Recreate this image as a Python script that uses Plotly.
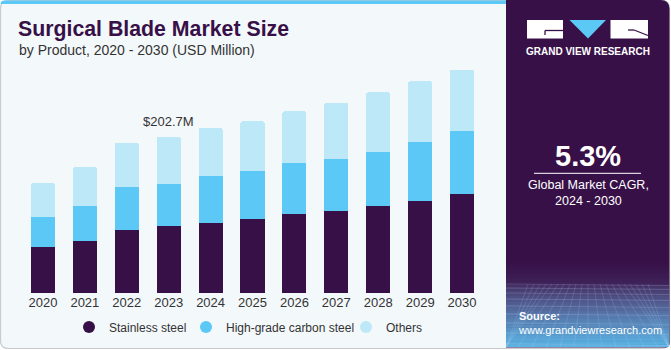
import plotly.graph_objects as go

# ---------------- data ----------------
years = ["2020", "2021", "2022", "2023", "2024", "2025", "2026", "2027", "2028", "2029", "2030"]
stainless_steel = [59.1, 66.9, 82.1, 86.9, 91.2, 96.4, 102.8, 106.7, 113.6, 119.7, 129.2]
high_grade_carbon_steel = [39.8, 46.3, 55.8, 55.2, 61.0, 62.6, 66.5, 67.4, 70.0, 76.5, 81.7]
others = [43.7, 50.2, 57.5, 60.6, 61.9, 64.1, 66.7, 73.0, 77.0, 78.7, 79.1]
series_names = ["Stainless steel", "High-grade carbon steel", "Others"]
series_colors = ["#371047", "#5BC8F5", "#BDE8F8"]
highlight_year = "2023"
highlight_label = "$202.7M"
title_text = "Surgical Blade Market Size"
subtitle_text = "by Product, 2020 - 2030 (USD Million)"
cagr_value = "5.3%"
cagr_text = "Global Market CAGR,<br>2024 - 2030"

# ---------------- geometry ----------------
W, H = 671, 350
L, R, T, B = 22, 188, 60, 57
PW, PH = W - L - R, H - T - B
YMAX = 302.6


def px(x):
    return (x - L) / PW


def py(y):
    return 1 - (y - T) / PH


fig = go.Figure()
series = [stainless_steel, high_grade_carbon_steel, others]
for name, vals, col in zip(series_names, series, series_colors):
    fig.add_trace(go.Bar(x=years, y=vals, name=name, marker=dict(color=col, line=dict(width=0)),
                         showlegend=False, hoverinfo="skip"))
legend_ids = ["legend", "legend2", "legend3"]
for name, col, lid in zip(series_names, series_colors, legend_ids):
    fig.add_trace(go.Scatter(x=[None], y=[None], mode="markers", name=name, legend=lid,
                             marker=dict(symbol="circle", size=11, color=col)))

shapes = []
BG = "#F3F8FB"
PURPLE = "#371047"


def path_round_rect(x0, y0, x1, y1, r_tl=0, r_tr=0, r_br=0, r_bl=0):
    def P(x, y):
        return f"{px(x)},{py(y)}"
    d = f"M {P(x0 + r_tl, y0)} L {P(x1 - r_tr, y0)} "
    if r_tr:
        d += f"Q {P(x1, y0)} {P(x1, y0 + r_tr)} "
    d += f"L {P(x1, y1 - r_br)} "
    if r_br:
        d += f"Q {P(x1, y1)} {P(x1 - r_br, y1)} "
    d += f"L {P(x0 + r_bl, y1)} "
    if r_bl:
        d += f"Q {P(x0, y1)} {P(x0, y1 - r_bl)} "
    d += f"L {P(x0, y0 + r_tl)} "
    if r_tl:
        d += f"Q {P(x0, y0)} {P(x0 + r_tl, y0)} "
    return d + "Z"


# card background with border
shapes.append(dict(type="path", xref="paper", yref="paper", layer="below",
                   path=path_round_rect(0.5, 0.5, 669.5, 348.5, 8, 8, 8, 8),
                   fillcolor=BG, line=dict(color="#C8CCD0", width=1.2)))
# top blue strip
shapes.append(dict(type="path", xref="paper", yref="paper", layer="below",
                   path=path_round_rect(0.5, 0.5, 508, 4, 4, 0, 0, 0),
                   fillcolor="#5BC8F5", line=dict(width=0)))
# right panel
shapes.append(dict(type="path", xref="paper", yref="paper", layer="below",
                   path=path_round_rect(506, 0, 669.5, 347.5, 0, 9, 4, 0),
                   fillcolor=PURPLE, line=dict(width=0)))


# gradient at bottom of panel
def lerp(c1, c2, t):
    a = [int(c1[i:i + 2], 16) for i in (1, 3, 5)]
    b = [int(c2[i:i + 2], 16) for i in (1, 3, 5)]
    return "#" + "".join(f"{round(a[k] + (b[k] - a[k]) * t):02x}" for k in range(3))


g0, g1 = 262, 347
n = 30
stops = [(0.0, "#371047"), (0.25, "#3E2258"), (0.3, "#48386C"), (0.6, "#5672A6"), (1.0, "#5AB6E6")]
for i in range(n):
    t = (i + 0.5) / n
    for j in range(len(stops) - 1):
        if stops[j][0] <= t <= stops[j + 1][0]:
            tt = (t - stops[j][0]) / (stops[j + 1][0] - stops[j][0])
            col = lerp(stops[j][1], stops[j + 1][1], tt)
            break
    ya = g0 + (g1 - g0) * i / n
    yb = g0 + (g1 - g0) * (i + 1) / n + 0.5
    shapes.append(dict(type="rect", xref="paper", yref="paper", layer="below",
                       x0=px(506), x1=px(669), y0=py(ya), y1=py(min(yb, 347)),
                       fillcolor=col, line=dict(width=0)))
# perspective grid
hy = [284, 288, 293, 299, 306, 314, 323, 333, 344]
for yy in hy:
    shapes.append(dict(type="line", xref="paper", yref="paper", layer="below",
                       x0=px(506), x1=px(669), y0=py(yy), y1=py(yy + 1.5),
                       line=dict(color="rgba(200,220,255,0.25)", width=0.8)))
vx = 588
for k in range(-10, 11):
    xb = vx + k * 14
    xt = vx + k * 6
    shapes.append(dict(type="line", xref="paper", yref="paper", layer="below",
                       x0=px(max(506, min(669, xt))), y0=py(284),
                       x1=px(max(506, min(669, xb))), y1=py(347),
                       line=dict(color="rgba(200,220,255,0.2)", width=0.8)))

# logo
shapes.append(dict(type="rect", xref="paper", yref="paper", x0=px(527), x1=px(563), y0=py(20), y1=py(38.5),
                   fillcolor="white", line=dict(width=0)))
shapes.append(dict(type="line", xref="paper", yref="paper", x0=px(545), x1=px(563), y0=py(30.5), y1=py(30.5),
                   line=dict(color=PURPLE, width=1.3)))
shapes.append(dict(type="line", xref="paper", yref="paper", x0=px(545), x1=px(545), y0=py(30.5), y1=py(35),
                   line=dict(color=PURPLE, width=1.3)))
shapes.append(dict(type="path", xref="paper", yref="paper",
                   path=f"M {px(569.5)},{py(20)} L {px(606)},{py(20)} L {px(588)},{py(38.5)} Z",
                   fillcolor="#5BC8F5", line=dict(width=0)))
shapes.append(dict(type="rect", xref="paper", yref="paper", x0=px(610.5), x1=px(648), y0=py(20), y1=py(38.5),
                   fillcolor="white", line=dict(width=0)))
shapes.append(dict(type="line", xref="paper", yref="paper", x0=px(634), x1=px(648), y0=py(30), y1=py(35.5),
                   line=dict(color=PURPLE, width=1.3)))
shapes.append(dict(type="line", xref="paper", yref="paper", x0=px(628), x1=px(634), y0=py(30), y1=py(30),
                   line=dict(color=PURPLE, width=1.3)))
# CAGR rule
shapes.append(dict(type="line", xref="paper", yref="paper", x0=px(534), x1=px(641), y0=py(173.3), y1=py(173.3),
                   line=dict(color="white", width=1)))

FONT = "Liberation Sans, Arial, sans-serif"
ann = []


def add_ann(**kw):
    kw.setdefault("xref", "paper")
    kw.setdefault("yref", "paper")
    kw.setdefault("showarrow", False)
    ann.append(kw)


add_ann(text=f"<b>{title_text}</b>", x=px(16), y=py(29), xanchor="left", yanchor="middle",
        font=dict(family=FONT, size=21.3, color=PURPLE))
add_ann(text=subtitle_text, x=px(16.5), y=py(49.5), xanchor="left", yanchor="middle",
        font=dict(family=FONT, size=14, color="#333333"))
hi = years.index(highlight_year)
total_hi = stainless_steel[hi] + high_grade_carbon_steel[hi] + others[hi]
add_ann(text=highlight_label, x=hi, y=total_hi, xref="x", yref="y",
        xanchor="center", yanchor="bottom", yshift=6,
        font=dict(family=FONT, size=13, color="#333333"))
add_ann(text="<b>GRAND VIEW RESEARCH</b>", x=px(588), y=py(51.5), xanchor="center", yanchor="middle",
        font=dict(family=FONT, size=10, color="white"))
add_ann(text=f"<b>{cagr_value}</b>", x=px(588), y=py(156), xanchor="center", yanchor="middle",
        font=dict(family=FONT, size=29, color="white"))
add_ann(text=cagr_text, x=px(588), y=py(193), xanchor="center", yanchor="middle",
        font=dict(family=FONT, size=12.5, color="white"))
add_ann(text="<b>Source:</b><br>www.grandviewresearch.com", x=px(516), y=py(323), xanchor="left",
        yanchor="middle", align="left", font=dict(family=FONT, size=11, color="white"))

legend_marker_x = [89, 206, 366]
leg_common = dict(orientation="h", y=py(327), xanchor="left", yanchor="middle",
                  font=dict(family=FONT, size=12, color="#333333"), bgcolor="rgba(0,0,0,0)",
                  itemsizing="constant")

fig.update_layout(
    width=W, height=H, margin=dict(l=L, r=R, t=T, b=B, autoexpand=False),
    paper_bgcolor="white", plot_bgcolor="rgba(0,0,0,0)",
    barmode="stack", bargap=0.427, barcornerradius=2,
    showlegend=True,
    legend=dict(x=px(legend_marker_x[0] - 20), **leg_common),
    legend2=dict(x=px(legend_marker_x[1] - 20), **leg_common),
    legend3=dict(x=px(legend_marker_x[2] - 20), **leg_common),
    xaxis=dict(type="category", range=[-0.5, 10.5], showgrid=False, zeroline=False, showline=False,
               ticks="", tickfont=dict(family=FONT, size=13, color="#333333"), fixedrange=True),
    yaxis=dict(range=[0, YMAX], visible=False, fixedrange=True),
    shapes=shapes, annotations=ann,
)
fig.write_html("out.html")
